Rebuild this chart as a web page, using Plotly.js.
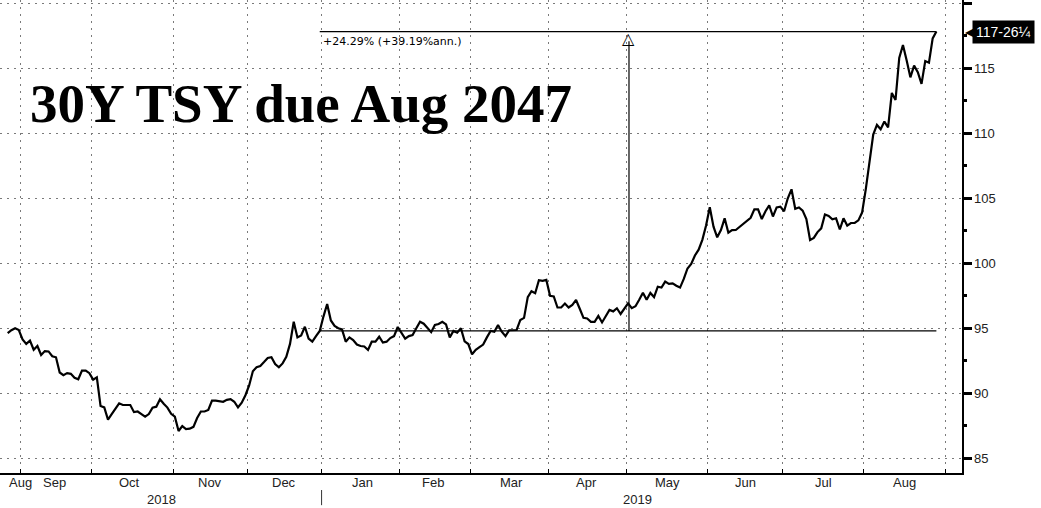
<!DOCTYPE html>
<html>
<head>
<meta charset="utf-8">
<script src="https://cdn.plot.ly/plotly-3.0.1.min.js"></script>
<style>
  html, body { margin: 0; padding: 0; background: #fff; }
  #chart { width: 1041px; height: 508px; }
</style>
</head>
<body>
<div id="chart"></div>
<script>
// ---- Data (daily close of the 30Y Treasury due Aug 2047) ----
const dates = [
 '2018-08-28','2018-08-29','2018-08-30','2018-08-31',
 '2018-09-04','2018-09-05','2018-09-06','2018-09-07','2018-09-10','2018-09-11','2018-09-12','2018-09-13','2018-09-14',
 '2018-09-17','2018-09-18','2018-09-19','2018-09-20','2018-09-21','2018-09-24','2018-09-25','2018-09-26','2018-09-27','2018-09-28',
 '2018-10-01','2018-10-02','2018-10-03','2018-10-04','2018-10-05','2018-10-09','2018-10-10','2018-10-11','2018-10-12',
 '2018-10-15','2018-10-16','2018-10-17','2018-10-18','2018-10-19','2018-10-22','2018-10-23','2018-10-24','2018-10-25','2018-10-26',
 '2018-10-29','2018-10-30','2018-10-31',
 '2018-11-01','2018-11-02','2018-11-05','2018-11-06','2018-11-07','2018-11-08','2018-11-09','2018-11-13','2018-11-14','2018-11-15',
 '2018-11-16','2018-11-19','2018-11-20','2018-11-21','2018-11-23','2018-11-26','2018-11-27','2018-11-28','2018-11-29','2018-11-30',
 '2018-12-03','2018-12-04','2018-12-05','2018-12-06','2018-12-07','2018-12-10','2018-12-11','2018-12-12','2018-12-13','2018-12-14',
 '2018-12-17','2018-12-18','2018-12-19','2018-12-20','2018-12-21','2018-12-24','2018-12-26','2018-12-27','2018-12-28','2018-12-31',
 '2019-01-02','2019-01-03','2019-01-04','2019-01-07','2019-01-08','2019-01-09','2019-01-10','2019-01-11','2019-01-14','2019-01-15',
 '2019-01-16','2019-01-17','2019-01-18','2019-01-22','2019-01-23','2019-01-24','2019-01-25','2019-01-28','2019-01-29','2019-01-30','2019-01-31',
 '2019-02-01','2019-02-04','2019-02-05','2019-02-06','2019-02-07','2019-02-08','2019-02-11','2019-02-12','2019-02-13','2019-02-14',
 '2019-02-15','2019-02-19','2019-02-20','2019-02-21','2019-02-22','2019-02-25','2019-02-26','2019-02-27','2019-02-28',
 '2019-03-01','2019-03-04','2019-03-05','2019-03-06','2019-03-07','2019-03-08','2019-03-11','2019-03-12','2019-03-13','2019-03-14',
 '2019-03-15','2019-03-18','2019-03-19','2019-03-20','2019-03-21','2019-03-22','2019-03-25','2019-03-26','2019-03-27','2019-03-28','2019-03-29',
 '2019-04-01','2019-04-02','2019-04-03','2019-04-04','2019-04-05','2019-04-08','2019-04-09','2019-04-10','2019-04-11','2019-04-12',
 '2019-04-15','2019-04-16','2019-04-17','2019-04-18','2019-04-22','2019-04-23','2019-04-24','2019-04-25','2019-04-26','2019-04-29','2019-04-30',
 '2019-05-01','2019-05-02','2019-05-03','2019-05-06','2019-05-07','2019-05-08','2019-05-09','2019-05-10','2019-05-13','2019-05-14',
 '2019-05-15','2019-05-16','2019-05-17','2019-05-20','2019-05-21','2019-05-22','2019-05-23','2019-05-24','2019-05-28','2019-05-29','2019-05-30','2019-05-31',
 '2019-06-03','2019-06-04','2019-06-05','2019-06-06','2019-06-07','2019-06-10','2019-06-11','2019-06-12','2019-06-13','2019-06-14',
 '2019-06-17','2019-06-18','2019-06-19','2019-06-20','2019-06-21','2019-06-24','2019-06-25','2019-06-26','2019-06-27','2019-06-28',
 '2019-07-01','2019-07-02','2019-07-03','2019-07-05','2019-07-08','2019-07-09','2019-07-10','2019-07-11','2019-07-12',
 '2019-07-15','2019-07-16','2019-07-17','2019-07-18','2019-07-19','2019-07-22','2019-07-23','2019-07-24','2019-07-25','2019-07-26',
 '2019-07-29','2019-07-30','2019-07-31',
 '2019-08-01','2019-08-02','2019-08-05','2019-08-06','2019-08-07','2019-08-08','2019-08-09','2019-08-12','2019-08-13','2019-08-14',
 '2019-08-15','2019-08-16','2019-08-19','2019-08-20','2019-08-21','2019-08-22','2019-08-23','2019-08-26','2019-08-27','2019-08-28'
];
const prices = [
 94.62,94.85,95.0,94.87,
 94.15,93.8,94.05,93.35,93.64,92.95,93.25,93.22,92.85,
 92.77,91.6,91.4,91.55,91.5,91.2,91.08,91.75,91.75,91.55,
 91.05,91.23,89.02,88.92,87.98,88.4,88.85,89.23,89.1,
 89.1,89.1,88.55,88.6,88.4,88.2,88.4,88.9,88.97,89.54,
 89.2,88.9,88.42,
 88.2,87.1,87.48,87.25,87.28,87.42,88.1,88.6,88.6,88.72,
 89.43,89.43,89.4,89.35,89.5,89.55,89.35,88.92,89.28,89.85,
 90.6,91.7,92.0,92.1,92.4,92.72,92.77,92.25,92.0,92.3,
 92.8,93.8,95.5,94.3,94.45,95.12,94.2,93.97,94.4,94.795,
 95.9,96.87,95.6,95.18,95.0,94.92,93.97,94.3,94.1,93.75,
 93.64,93.6,93.33,93.97,93.97,94.35,93.9,93.97,94.25,94.4,95.1,
 94.65,94.2,94.4,94.48,95.0,95.5,95.35,95.0,94.7,95.25,
 95.33,95.5,95.3,94.3,94.79,94.66,95.0,94.0,93.79,
 93.0,93.35,93.55,93.75,94.3,94.79,94.74,95.25,94.74,94.4,
 94.85,94.85,94.87,95.64,95.8,97.4,97.85,97.7,98.7,98.65,98.72,
 97.5,97.45,96.6,96.6,96.9,96.6,96.8,97.18,96.5,95.8,
 95.75,95.5,95.5,95.95,95.45,95.9,96.41,96.3,96.54,96.1,96.5,
 96.92,96.55,96.7,97.2,97.74,97.2,97.72,97.4,98.2,98.13,
 98.59,98.42,98.46,98.27,98.13,98.8,99.6,99.95,100.6,101.05,101.8,102.9,
 104.31,102.82,102.0,102.56,103.46,102.35,102.55,102.56,102.8,103.0,
 103.25,103.5,104.15,104.15,103.4,104.0,104.45,103.6,104.3,104.36,
 104.0,105.0,105.69,104.2,104.3,104.05,103.4,101.79,101.95,
 102.4,102.69,103.75,103.64,103.38,103.46,102.6,103.46,102.9,103.1,
 103.1,103.3,103.9,
 105.7,107.8,109.9,110.64,110.31,110.9,110.46,113.1,112.56,115.8,
 116.79,115.6,114.3,115.2,114.7,113.8,115.56,115.43,117.3,117.82
];

// Bond-market holidays (no trading days drawn)
const holidays = ['2018-09-03','2018-10-08','2018-11-12','2018-11-22','2018-12-25','2019-01-01',
                  '2019-01-21','2019-02-18','2019-04-19','2019-05-27','2019-07-04','2019-09-02'];

// Month boundaries (first trading day of each month) and month labels
const monthStarts = ['2018-09-04','2018-10-01','2018-11-01','2018-12-03','2019-01-02','2019-02-01',
                     '2019-03-01','2019-04-01','2019-05-01','2019-06-03','2019-07-01','2019-08-01','2019-09-03'];
const monthLabelDates = ['2018-09-04','2018-09-17','2018-10-16 10:00','2018-11-16','2018-12-17','2019-01-17',
                         '2019-02-14','2019-03-18','2019-04-15 10:00','2019-05-16','2019-06-17','2019-07-17','2019-08-16'];
const monthLabels = ['Aug','Sep','Oct','Nov','Dec','Jan','Feb','Mar','Apr','May','Jun','Jul','Aug'];
const yearLabels = ['2018','2019'];
const yearLabelDates = ['2018-10-29','2019-05-06'];

const yTicks = [85, 90, 95, 100, 105, 110, 115, 120];

const lastPriceLabel = '117-26¼';
const measureText = '+24.29% (+39.19%ann.)';
const measureStartDate = '2018-12-31 12:00';
const measureEndDate = '2019-08-28 12:00';
const measureMarkDate = '2019-05-01 18:00';

const titleText = '30Y TSY due Aug 2047';

// ---- Derived values ----
const baseVal = prices[dates.indexOf('2018-12-31')];
const lastVal = prices[prices.length - 1];

const gridColor = '#7a7a7a';
const gridDash = '2px,5px';
const tickFont = { family: 'Liberation Sans, Arial, sans-serif', size: 13, color: '#222' };

const trace = {
  type: 'scatter',
  mode: 'lines',
  x: dates,
  y: prices,
  xperiod: 86400000,
  xperiodalignment: 'middle',
  line: { color: '#000', width: 2.2 },
  hoverinfo: 'skip'
};

const monthAnnotations = monthLabels.map((m, i) => ({
  text: m, xref: 'x', yref: 'paper', x: monthLabelDates[i], y: -0.0205,
  xanchor: 'center', yanchor: 'middle', showarrow: false, font: tickFont
}));
const yearAnnotations = yearLabels.map((yl, i) => ({
  text: yl, xref: 'x', yref: 'paper', x: yearLabelDates[i], y: -0.055,
  xanchor: 'center', yanchor: 'middle', showarrow: false, font: tickFont
}));

const layout = {
  width: 1041,
  height: 508,
  margin: { l: 0, r: 79, t: 0, b: 35, pad: 0 },
  paper_bgcolor: '#fff',
  plot_bgcolor: '#fff',
  showlegend: false,
  xaxis: {
    type: 'date',
    range: ['2018-08-24 10:20', '2019-09-09 09:30'],
    rangebreaks: [
      { bounds: ['sat', 'mon'] },
      { values: holidays, dvalue: 86400000 }
    ],
    tickmode: 'array',
    tickvals: monthStarts,
    showticklabels: false,
    ticks: 'inside',
    ticklen: 4,
    tickwidth: 1,
    tickcolor: '#000',
    showgrid: true,
    gridcolor: gridColor,
    griddash: gridDash,
    gridwidth: 1,
    showline: true,
    linecolor: '#000',
    linewidth: 1.5,
    zeroline: false,
    fixedrange: true
  },
  yaxis: {
    side: 'right',
    range: [83.87, 120.25],
    tickmode: 'array',
    tickvals: yTicks,
    ticks: 'outside',
    ticklen: 8,
    tickwidth: 3,
    tickcolor: '#000',
    showline: true,
    linecolor: '#000',
    linewidth: 1.5,
    showgrid: true,
    gridcolor: gridColor,
    griddash: gridDash,
    gridwidth: 1,
    zeroline: false,
    tickfont: tickFont,
    minor: {
      tickmode: 'linear',
      tick0: 82.5,
      dtick: 5,
      ticks: 'outside',
      ticklen: 3,
      tickcolor: '#000',
      showgrid: false
    },
    fixedrange: true
  },
  shapes: [
    // measurement: horizontal line at the end value
    { type: 'line', xref: 'x', yref: 'y', x0: measureStartDate, x1: measureEndDate,
      y0: lastVal, y1: lastVal, line: { color: '#000', width: 1.2 } },
    // measurement: horizontal line at the start value
    { type: 'line', xref: 'x', yref: 'y', x0: measureStartDate, x1: measureEndDate,
      y0: baseVal, y1: baseVal, line: { color: '#000', width: 1.2 } },
    // measurement: vertical arrow shaft
    { type: 'line', xref: 'x', yref: 'y', x0: measureMarkDate, x1: measureMarkDate,
      y0: baseVal, y1: lastVal - 0.75, line: { color: '#000', width: 1.2 } },
    // year separator below the axis
    { type: 'line', xref: 'x', yref: 'paper', x0: '2019-01-02', x1: '2019-01-02',
      y0: -0.036, y1: -0.068, line: { color: '#333', width: 1 } }
  ],
  annotations: [
    { text: '<b>' + titleText + '</b>', xref: 'paper', yref: 'paper', x: 0.029, y: 0.782,
      xanchor: 'left', yanchor: 'middle', showarrow: false,
      font: { family: 'Liberation Serif, Times New Roman, serif', size: 55, color: '#000' } },
    { text: measureText, xref: 'x', yref: 'y', x: measureStartDate, y: lastVal,
      xanchor: 'left', yanchor: 'top', xshift: 1, yshift: -1, showarrow: false,
      font: { family: 'DejaVu Sans, Verdana, sans-serif', size: 11, color: '#000' } },
    { text: '△', xref: 'x', yref: 'y', x: measureMarkDate, y: lastVal,
      xanchor: 'center', yanchor: 'top', yshift: 5, showarrow: false,
      font: { family: 'DejaVu Sans, sans-serif', size: 16, color: '#000' } },
    { text: '◀', xref: 'paper', yref: 'y', x: 1, y: lastVal, xanchor: 'left', yanchor: 'middle',
      xshift: 1, showarrow: false,
      font: { family: 'DejaVu Sans, sans-serif', size: 12, color: '#000' } },
    { text: lastPriceLabel, xref: 'paper', yref: 'y', x: 1, y: lastVal, xanchor: 'left', yanchor: 'middle',
      xshift: 10, showarrow: false, bgcolor: '#000', borderpad: 3,
      font: { family: 'Liberation Sans, Arial, sans-serif', size: 14, color: '#fff' } }
  ].concat(monthAnnotations, yearAnnotations)
};

Plotly.newPlot('chart', [trace], layout, { staticPlot: true, displayModeBar: false });
</script>
</body>
</html>
